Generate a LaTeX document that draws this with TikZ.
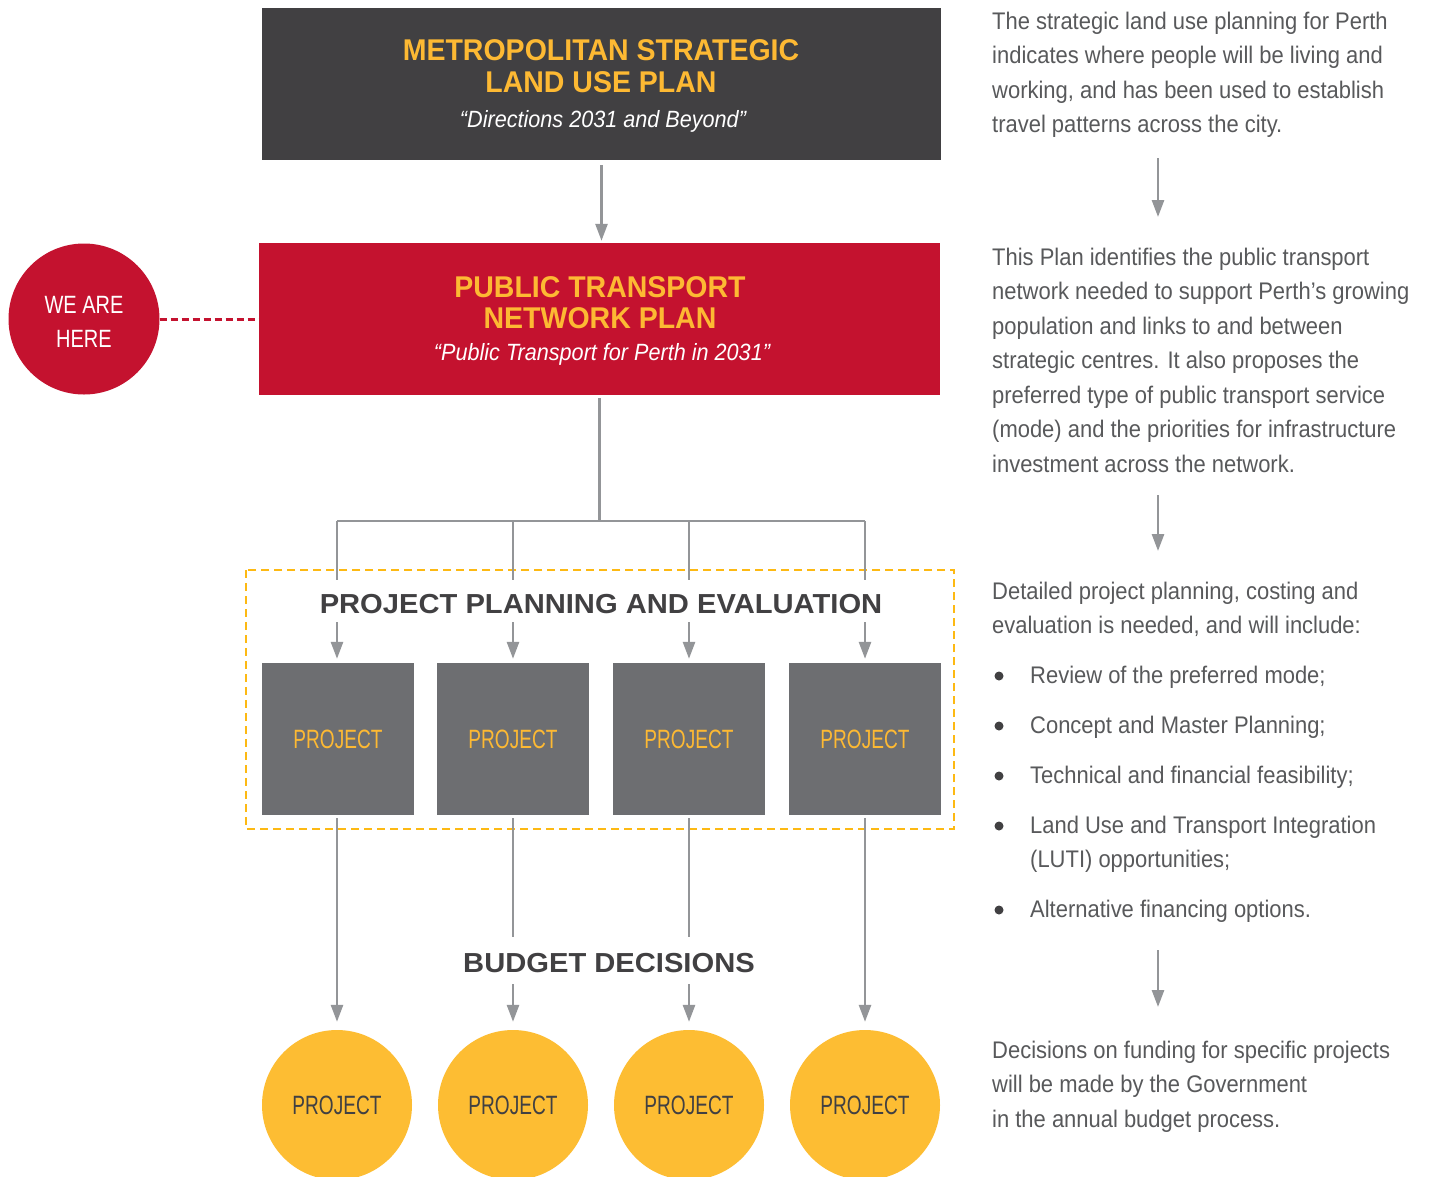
\documentclass[tikz,border=0pt]{standalone}
\usepackage{fontspec}
\setmainfont{Liberation Sans}
\newfontfamily\bodyf{Liberation Sans}[FakeStretch=0.915]
\newfontfamily\condf{Liberation Sans}[FakeStretch=0.72]
\newfontfamily\weref{Liberation Sans}[FakeStretch=0.80]
\newfontfamily\itf{Liberation Sans}[FakeStretch=0.92]
\newfontfamily\titf{Liberation Sans}[FakeStretch=0.95]
\newfontfamily\secf{Liberation Sans}[FakeStretch=1.06]
\usetikzlibrary{arrows.meta}
\definecolor{boxdark}{HTML}{414042}
\definecolor{boxred}{HTML}{C4122F}
\definecolor{projgray}{HTML}{6D6E71}
\definecolor{projyellow}{HTML}{FDBD33}
\definecolor{titleyellow}{HTML}{FDB933}
\definecolor{dashyellow}{HTML}{FDB913}
\definecolor{conngray}{HTML}{939598}
\definecolor{textgray}{HTML}{58595B}
\tikzset{
  conn/.style={draw=conngray, line width=2.7pt},
  arr/.style={conn, -{Triangle[width=12pt,length=17pt]}},
  bigbox/.style={rectangle, inner sep=0, minimum height=152pt},
  projbox/.style={rectangle, fill=projgray, inner sep=0, minimum width=152pt, minimum height=152pt,
     text=titleyellow, font=\condf\fontsize{26.5}{30}\selectfont},
  projcirc/.style={circle, fill=projyellow, inner sep=0, minimum size=150pt,
     text=boxdark, font=\condf\fontsize{26.5}{30}\selectfont},
  titletext/.style={anchor=base, inner sep=0, text=titleyellow, font=\titf\bfseries\fontsize{30}{34}\selectfont},
  subtext/.style={anchor=base, inner sep=0, text=white, font=\itf\itshape\fontsize{23.5}{28}\selectfont},
  sectext/.style={anchor=base, inner sep=0, text=boxdark, font=\secf\bfseries\fontsize{27.5}{32}\selectfont},
  body/.style={anchor=base west, inner sep=0, text=textgray, font=\bodyf\fontsize{24}{34.5}\selectfont},
  bulletdot/.style={circle, fill=boxdark, inner sep=0, minimum size=9pt},
}
\begin{document}
\begin{tikzpicture}[x=1pt,y=-1pt]
\clip (0,0) rectangle (1429,1176);
\fill[white] (0,0) rectangle (1429,1176);

% top box
\node[bigbox, fill=boxdark, minimum width=679pt] (top) at (601.5,84) {};
\node[titletext] (topt1) at (601,60) {METROPOLITAN STRATEGIC};
\node[titletext] (topt2) at (601,92) {LAND USE PLAN};
\node[subtext] (topt3) at (603,127) {“Directions 2031 and Beyond”};

% red box
\node[bigbox, fill=boxred, minimum width=681pt] (red) at (599.5,319) {};
\node[titletext] (redt1) at (600,297) {PUBLIC TRANSPORT};
\node[titletext] (redt2) at (600,328) {NETWORK PLAN};
\node[subtext] (redt3) at (602,360) {“Public Transport for Perth in 2031”};

% we are here
\node[circle, fill=boxred, inner sep=0, minimum size=151pt] (here) at (84,319) {};
\node[anchor=base, inner sep=0, text=white, font=\weref\fontsize{25}{30}\selectfont] (here1) at (84,313) {WE ARE};
\node[anchor=base, inner sep=0, text=white, font=\weref\fontsize{25}{30}\selectfont] (here2) at (84,347) {HERE};
\draw[boxred, line width=3pt, dash pattern=on 7pt off 4pt] (here.east) -- (red.west);

% arrow top -> red
\draw[arr, shorten <=5pt, shorten >=2pt] (top.south) -- (top.south |- red.north);

% dashed planning frame
\draw[dashyellow, line width=2.5pt, dash pattern=on 8pt off 5pt] (246,570) rectangle (954,829);
\node[sectext] (ppe) at (601,613) {PROJECT PLANNING AND EVALUATION};

% project boxes
\node[projbox] (pb1) at (338,739) {PROJECT};
\node[projbox] (pb2) at (513,739) {PROJECT};
\node[projbox] (pb3) at (689,739) {PROJECT};
\node[projbox] (pb4) at (865,739) {PROJECT};

% tree coordinates
\coordinate (t1) at (337,521);
\coordinate (t2) at (513,521);
\coordinate (t3) at (689,521);
\coordinate (t4) at (865,521);
\draw[conn, shorten <=3pt] (red.south) -- (red.south |- t1);
\draw[conn] (t1) -- (t4);
\foreach \x [count=\i] in {337,513,689,865}{
  \coordinate (u\i) at (\x,580);
  \coordinate (v\i) at (\x,622);
  \draw[conn] (t\i) -- (u\i);
  \draw[arr, shorten >=4pt] (v\i) -- (v\i |- pb\i.north);
}

% budget
\node[sectext] (budget) at (609,972) {BUDGET DECISIONS};

% circles
\node[projcirc] (pc1) at (337,1105) {PROJECT};
\node[projcirc] (pc2) at (513,1105) {PROJECT};
\node[projcirc] (pc3) at (689,1105) {PROJECT};
\node[projcirc] (pc4) at (865,1105) {PROJECT};

\draw[arr, shorten <=3pt, shorten >=8pt] (pc1 |- pb1.south) -- (pc1.north);
\draw[arr, shorten <=3pt, shorten >=8pt] (pc4 |- pb4.south) -- (pc4.north);
\coordinate (w2) at (513,937);
\coordinate (w3) at (689,937);
\coordinate (z2) at (513,984);
\coordinate (z3) at (689,984);
\draw[conn, shorten <=3pt] (pc2 |- pb2.south) -- (w2);
\draw[conn, shorten <=3pt] (pc3 |- pb3.south) -- (w3);
\draw[arr, shorten >=8pt] (z2) -- (pc2.north);
\draw[arr, shorten >=8pt] (z3) -- (pc3.north);

% right column text
\foreach \t [count=\i] in {{The strategic land use planning for Perth},{indicates where people will be living and},{working, and has been used to establish},{travel patterns across the city.}}
  \node[body] (pa\i) at (992,{29+34.5*(\i-1)}) {\t};
\foreach \t [count=\i] in {{This Plan identifies the public transport},{network needed to support Perth’s growing},{population and links to and between},{strategic centres. It also proposes the},{preferred type of public transport service},{(mode) and the priorities for infrastructure},{investment across the network.}}
  \node[body] (pb\i t) at (992,{265+34.5*(\i-1)}) {\t};
\node[body] (pc1t) at (992,599) {Detailed project planning, costing and};
\node[body] (pc2t) at (992,633) {evaluation is needed, and will include:};
\node[body] (bl1) at (1030,683) {Review of the preferred mode;};
\node[body] (bl2) at (1030,733) {Concept and Master Planning;};
\node[body] (bl3) at (1030,783) {Technical and financial feasibility;};
\node[body] (bl4) at (1030,833) {Land Use and Transport Integration};
\node[body] (bl4b) at (1030,867) {(LUTI) opportunities;};
\node[body] (bl5) at (1030,917) {Alternative financing options.};
\foreach \y [count=\i] in {676,726,776,826,910}
  \node[bulletdot] (dot\i) at (999,\y) {};
\node[body] (pd1) at (992,1058) {Decisions on funding for specific projects};
\node[body] (pd2) at (992,1092) {will be made by the Government};
\node[body] (pd3) at (992,1127) {in the annual budget process.};

% right arrows
\coordinate (ra1) at (1158,158);
\coordinate (rb1) at (1158,217);
\coordinate (ra2) at (1158,495);
\coordinate (rb2) at (1158,551);
\coordinate (ra3) at (1158,950);
\coordinate (rb3) at (1158,1007);
\draw[arr] (ra1) -- (rb1);
\draw[arr] (ra2) -- (rb2);
\draw[arr] (ra3) -- (rb3);
\end{tikzpicture}
\end{document}
